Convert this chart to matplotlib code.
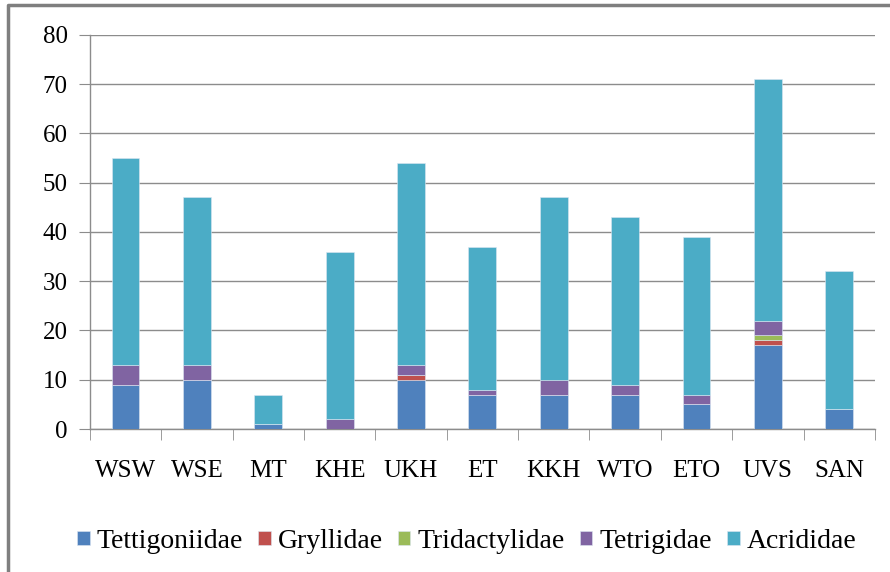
import matplotlib.pyplot as plt
import numpy as np
from matplotlib.lines import Line2D

sites = ["WSW", "WSE", "MT", "KHE", "UKH", "ET", "KKH", "WTO", "ETO", "UVS", "SAN"]
tettigoniidae = [9, 10, 1, 0, 10, 7, 7, 7, 5, 17, 4]
gryllidae = [0, 0, 0, 0, 1, 0, 0, 0, 0, 1, 0]
tridactylidae = [0, 0, 0, 0, 0, 0, 0, 0, 0, 1, 0]
tetrigidae = [4, 3, 0, 2, 2, 1, 3, 2, 2, 3, 0]
acrididae = [42, 34, 6, 34, 41, 29, 37, 34, 32, 49, 28]

series = [
    ("Tettigoniidae", tettigoniidae, "#4F81BD"),
    ("Gryllidae", gryllidae, "#C0504D"),
    ("Tridactylidae", tridactylidae, "#9BBB59"),
    ("Tetrigidae", tetrigidae, "#8064A2"),
    ("Acrididae", acrididae, "#4BACC6"),
]

plt.rcParams['font.family'] = ['Liberation Serif', 'DejaVu Serif']

fig = plt.figure(figsize=(8.9, 5.72), dpi=100)
ax = fig.add_axes([0.101, 0.25, 0.882, 0.689])

x = np.arange(len(sites))
bottom = np.zeros(len(sites))
for name, vals, color in series:
    vals = np.array(vals, dtype=float)
    ax.bar(x, vals, 0.39, bottom=bottom, color=color, label=name,
           edgecolor="#dce6f2", linewidth=0.4, zorder=3)
    bottom += vals

ax.set_xlim(-0.5, len(sites) - 0.5)
ax.set_ylim(0, 80)
ax.set_yticks(range(0, 81, 10))
ax.yaxis.grid(True, color="#8c8c8c", linewidth=1.0, zorder=0)
ax.set_xticks(x)
ax.set_xticklabels(sites)
ax.set_xticks(np.arange(-0.5, len(sites), 1), minor=True)
ax.tick_params(axis="x", which="major", length=0, pad=22, labelsize=18)
ax.tick_params(axis="x", which="minor", length=8, color="#8c8c8c", direction="out")
ax.tick_params(axis="y", length=8, color="#8c8c8c", labelsize=18, pad=8)

for s in ["top", "right"]:
    ax.spines[s].set_visible(False)
for s in ["left", "bottom"]:
    ax.spines[s].set_color("#8c8c8c")
    ax.spines[s].set_linewidth(1.0)

ax.legend(loc="upper center", bbox_to_anchor=(0.48, -0.19), ncol=5, frameon=False,
          fontsize=20, handlelength=0.45, handleheight=0.45, handletextpad=0.25,
          columnspacing=0.55)

# only the left and top of the outer frame are visible in the picture
fig.lines.append(Line2D([0.009, 0.009, 1.0], [0.0, 0.991, 0.991], transform=fig.transFigure,
                        color="#7f7f7f", linewidth=2.5))

fig.savefig("out.png", dpi=100)
